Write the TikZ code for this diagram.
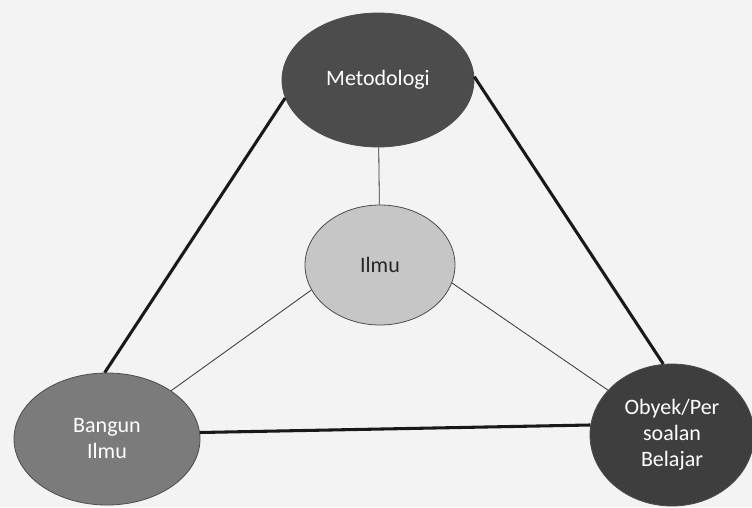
\documentclass[tikz,border=0pt]{standalone}
\usepackage{fontspec}
\setmainfont{Carlito}
\usetikzlibrary{shapes.geometric}

\definecolor{paper}{HTML}{F3F3F3}
\definecolor{metgray}{HTML}{4C4C4C}
\definecolor{ilmugray}{HTML}{C6C6C6}
\definecolor{bangray}{HTML}{7B7B7B}
\definecolor{objgray}{HTML}{3E3E3E}

\begin{document}
\begin{tikzpicture}[x=0.75pt, y=-0.75pt,
	blob/.style={ellipse, draw=black!70, line width=0.6pt, inner sep=0pt, align=center, text=white, font=\fontsize{16.5}{19.5}\selectfont},
	thick line/.style={line width=2.3pt, black!90},
	thin line/.style={line width=0.6pt, black!80}]
				
				\fill[paper] (0,0) rectangle (752,507);
				\useasboundingbox (0,0) rectangle (752,507);
				
				\node[blob, fill=metgray, minimum width=144pt, minimum height=100.5pt] (M) at (378,80) {Metodologi};
				\node[blob, fill=ilmugray, text=black!85, minimum width=112.5pt, minimum height=90pt] (I) at (380,265) {Ilmu};
				\node[blob, fill=bangray, minimum width=139.5pt, minimum height=99pt] (B) at (107,439) {Bangun\\Ilmu};
				\node[blob, fill=objgray, minimum width=123pt, minimum height=106.5pt] (O) at (672,435) {Obyek/Per\\soalan\\Belajar};
				
				\draw[thick line] (M.191) -- (B.92);
				\draw[thick line] (M.2) -- (O.97);
				\draw[thick line] (B.4) -- (O.173);
				
				\draw[thin line] (M) -- (I);
				\draw[thin line] (I.200) -- (B.37);
				\draw[thin line] (I.346) -- (O.145);
				
			\end{tikzpicture}
\end{document}
